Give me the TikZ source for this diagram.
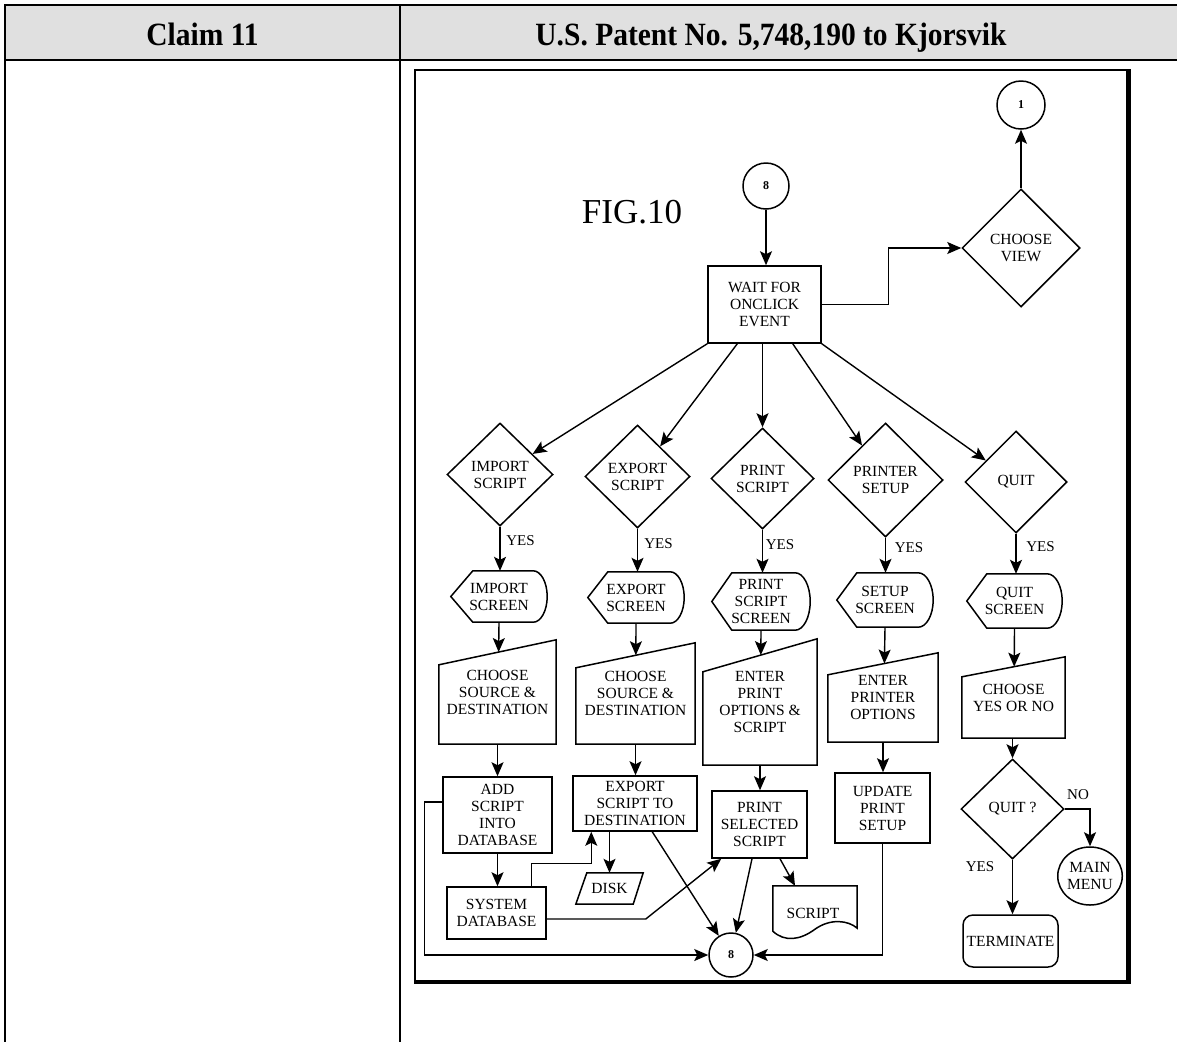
\documentclass[tikz,border=0pt]{standalone}
\usepackage{fontspec}
\setmainfont{Liberation Serif}
\usetikzlibrary{arrows.meta,shapes.geometric,calc}
\definecolor{tabgray}{HTML}{E0E0E0}
% display (screen) outline: #1 node, #2 tip inset, #3 bulge radius
\newcommand\dispshape[3]{\draw[shp] (#1.west) -- ([xshift=#2]#1.north west) -- ([xshift=-#3]#1.north east)
  .. controls ([xshift=-0.45*#3]#1.north east) and ($(#1.east)!0.55!(#1.north east)$) .. (#1.east)
  .. controls ($(#1.east)!0.55!(#1.south east)$) and ([xshift=-0.45*#3]#1.south east) .. ([xshift=-#3]#1.south east)
  -- ([xshift=#2]#1.south west) -- cycle;}
% manual input outline: #1 node, #2 drop of the top left corner
\newcommand\maninput[2]{\coordinate (#1tl) at ([yshift=-#2]#1.north west);
  \draw[shp] (#1tl) -- (#1.north east) -- (#1.south east) -- (#1.south west) -- cycle;}
\begin{document}
\begin{tikzpicture}[x=1pt,y=-1pt,
  shp/.style={draw, line width=1.5pt, line join=miter},
  arr/.style={line width=1.4pt, -{Stealth[length=14pt,width=12pt,inset=3pt]}},
  txt/.style={font=\fontsize{15.5}{17}\selectfont, align=center, inner sep=0pt},
  boxn/.style={txt, rectangle, draw, line width=1.5pt},
  dia/.style={txt, diamond, draw, line width=1.5pt},
  ghost/.style={txt, rectangle, draw=none},
  lbl/.style={font=\fontsize{15}{17}\selectfont, inner sep=0pt},
  conn/.style={circle, draw, line width=1.5pt, inner sep=0pt, font=\bfseries\fontsize{12}{13}\selectfont},
  hdr/.style={font=\bfseries\fontsize{29.5}{32}\selectfont, anchor=base, inner sep=0pt}
]
\useasboundingbox (0,0) rectangle (1177,1042);
% ---- table
\fill[tabgray] (5,5) rectangle (1177,60);
\draw[line width=2pt] (1177,5) -- (5,5) -- (5,1042);
\draw[line width=2pt] (5,60) -- (1177,60);
\draw[line width=2pt] (400,5) -- (400,1042);
\node[hdr] (h1) at (202.5,45) {\scalebox{1}[1.1]{Claim 11}};
\node[hdr] (h2) at (771,45) {\scalebox{1}[1.1]{U.S. Patent No. 5,748,190 to Kjorsvik}};
% ---- figure frame
\draw[line width=1.6pt] (1128,70) -- (415,70) -- (415,982);
\draw[line width=4.5pt, line join=miter] (1128.5,69.3) -- (1128.5,982) -- (414.2,982);
\node[font=\fontsize{35}{40}\selectfont, anchor=base, inner sep=0pt] (fig) at (632,223) {FIG.10};
% ---- connectors (circles)
\node[conn, minimum size=46pt] (c8a) at (766,186) {8};
\node[conn, minimum size=48pt] (c1) at (1021,105) {1};
\node[conn, minimum size=44pt] (c8b) at (731,955) {8};
\node[txt, ellipse, draw, line width=1.5pt, minimum width=64pt, minimum height=58pt] (mm) at (1090,876) {MAIN\\MENU};
% ---- boxes
\node[boxn, minimum width=113pt, minimum height=77pt] (wait) at (764.5,304.5) {WAIT FOR\\ONCLICK\\EVENT};
\node[boxn, minimum width=109pt, minimum height=76pt] (add) at (497.5,815) {ADD\\SCRIPT\\INTO\\DATABASE};
\node[boxn, minimum width=124pt, minimum height=55pt] (exp2) at (635,803.5) {EXPORT\\SCRIPT TO\\DESTINATION};
\node[boxn, minimum width=99pt, minimum height=52pt] (sysdb) at (496.5,913) {SYSTEM\\DATABASE};
\node[boxn, minimum width=95pt, minimum height=67pt] (prsel) at (759.5,824.5) {PRINT\\SELECTED\\SCRIPT};
\node[boxn, minimum width=95pt, minimum height=70pt] (upd) at (882.5,808) {UPDATE\\PRINT\\SETUP};
\node[boxn, rounded corners=10pt, minimum width=95pt, minimum height=52pt] (term) at (1010.5,941) {TERMINATE};
% ---- decisions
\node[dia, minimum width=118pt, minimum height=118pt] (view) at (1021,248) {CHOOSE\\VIEW};
\node[dia, minimum width=106pt, minimum height=103pt] (imp) at (500,474.5) {IMPORT\\SCRIPT};
\node[dia, minimum width=105pt, minimum height=103pt] (expd) at (637.5,476.5) {EXPORT\\SCRIPT};
\node[dia, minimum width=103pt, minimum height=101pt] (prd) at (762.5,478.5) {PRINT\\SCRIPT};
\node[dia, minimum width=115pt, minimum height=114pt] (psd) at (885.5,480) {PRINTER\\SETUP};
\node[dia, minimum width=102pt, minimum height=102pt] (quitd) at (1016,482) {QUIT};
\node[dia, minimum width=103pt, minimum height=100pt] (quitq) at (1012.5,809) {QUIT ?};
% ---- screens
\node[ghost, minimum width=96pt, minimum height=51pt] (is) at (499,596.5) {IMPORT\\SCREEN};
\node[ghost, minimum width=96pt, minimum height=51pt] (es) at (636,597.5) {EXPORT\\SCREEN};
\node[ghost, minimum width=98pt, minimum height=57pt] (pss) at (761,601.5) {PRINT\\SCRIPT\\SCREEN};
\node[ghost, minimum width=96pt, minimum height=54pt] (ss) at (885,600) {SETUP\\SCREEN};
\node[ghost, minimum width=95pt, minimum height=54pt] (qs) at (1014.5,601) {QUIT\\SCREEN};
\dispshape{is}{22pt}{14pt}
\dispshape{es}{20pt}{14pt}
\dispshape{pss}{20pt}{15pt}
\dispshape{ss}{20pt}{15pt}
\dispshape{qs}{20pt}{15pt}
% ---- manual inputs
\node[ghost, minimum width=117pt, minimum height=104pt] (ch1) at (497.5,692) {CHOOSE\\SOURCE \&\\DESTINATION};
\node[ghost, minimum width=119pt, minimum height=101pt] (ch2) at (635.5,693.5) {CHOOSE\\SOURCE \&\\DESTINATION};
\node[ghost, minimum width=114pt, minimum height=126pt] (ent1) at (760,702) {ENTER\\PRINT\\OPTIONS \&\\SCRIPT};
\node[ghost, minimum width=110pt, minimum height=89pt] (ent2) at (883,697.5) {ENTER\\PRINTER\\OPTIONS};
\node[ghost, minimum width=103pt, minimum height=81pt] (chyn) at (1013.5,697.5) {CHOOSE\\YES OR NO};
\maninput{ch1}{25pt}
\maninput{ch2}{25pt}
\maninput{ent1}{33pt}
\maninput{ent2}{22pt}
\maninput{chyn}{20pt}
% ---- disk and printed script
\node[ghost, minimum width=67pt, minimum height=31pt] (disk) at (609.5,888.5) {DISK};
\draw[shp] ([xshift=11pt]disk.north west) -- (disk.north east) -- ([xshift=-10pt]disk.south east) -- (disk.south west) -- cycle;
\node[ghost, minimum width=84pt, minimum height=46pt] (scr) at (815,909) {};
\draw[shp] (scr.north west) -- (scr.north east) -- ([yshift=4pt]scr.south east)
  .. controls ([xshift=-9pt,yshift=12pt]scr.south east) and ([xshift=-27pt,yshift=14pt]scr.south east) .. ([yshift=3pt]scr.south)
  .. controls ([xshift=-15pt,yshift=-8pt]scr.south) and ([xshift=12pt,yshift=-10pt]scr.south west) .. ([yshift=1pt]scr.south west) -- cycle;
\node[txt] (scrt) at (813,913) {SCRIPT};
% ---- connectors
\draw[arr] (c8a) -- (c8a |- wait.north);
\draw[arr] (wait.east) -- ++(67,0) |- (view.west);
\draw[arr] (view) -- (c1);
\draw[arr] (wait.south west) -- (imp);
\draw[arr] ([xshift=30pt]wait.south west) -- (expd);
\draw[arr] (prd.north |- wait.south) -- (prd.north);
\draw[arr] ([xshift=-29pt]wait.south east) -- (psd);
\draw[arr] (wait.south east) -- (quitd);
\draw[arr] (imp.south) -- (imp.south |- is.north);
\draw[arr] (expd.south) -- (expd.south |- es.north);
\draw[arr] (prd.south) -- (prd.south |- pss.north);
\draw[arr] (psd.south) -- (psd.south |- ss.north);
\draw[arr] (quitd.south) -- (quitd.south |- qs.north);
\node[lbl] (y1) at (520.5,541) {YES};
\node[lbl] (y2) at (658.5,544) {YES};
\node[lbl] (y3) at (780,545) {YES};
\node[lbl] (y4) at (909,548) {YES};
\node[lbl] (y5) at (1040.5,547) {YES};
\draw[arr] (is.south) -- (intersection of is.south--ch1.south and ch1tl--ch1.north east);
\draw[arr] (es.south) -- (intersection of es.south--ch2.south and ch2tl--ch2.north east);
\draw[arr] (pss.south) -- (intersection of pss.south--ent1.south and ent1tl--ent1.north east);
\draw[arr] (ss.south) -- (intersection of ss.south--ent2.south and ent2tl--ent2.north east);
\draw[arr] (qs.south) -- (intersection of qs.south--chyn.south and chyntl--chyn.north east);
\draw[arr] (ch1.south) -- (ch1.south |- add.north);
\draw[arr] (ch2.south) -- (ch2.south |- exp2.north);
\draw[arr] (ent1.south) -- (ent1.south |- prsel.north);
\draw[arr] (ent2.south) -- (ent2.south |- upd.north);
\draw[arr] (quitq.north |- chyn.south) -- (quitq.north);
\draw[arr] (add.south) -- (add.south |- sysdb.north);
\draw[arr] ([xshift=-15pt]sysdb.north east) -- ++(0,-23) -| ([xshift=19pt]exp2.south west);
\draw[arr] (disk.north |- exp2.south) -- (disk.north);
\draw[arr] ([xshift=80pt]exp2.south west) -- (c8b);
\draw[arr] ([yshift=-6pt]sysdb.east) -- ++(99,0) -- ([xshift=10pt]prsel.south west);
\draw[arr] ([yshift=13pt]add.west) -- ++(-18,0) |- (c8b.west);
\draw[arr] ([xshift=-7.5pt]prsel.south) -- (c8b);
\draw[arr] ([xshift=20.5pt]prsel.south) -- ([xshift=-20pt]scr.north);
\draw[arr] (upd.south) |- (c8b.east);
\draw[arr] (quitq.east) -| (mm.north);
\draw[arr] (quitq.south) -- (quitq.south |- term.north);
\node[lbl] (no) at (1078,795) {NO};
\node[lbl] (y6) at (980,867) {YES};
\end{tikzpicture}
\end{document}
